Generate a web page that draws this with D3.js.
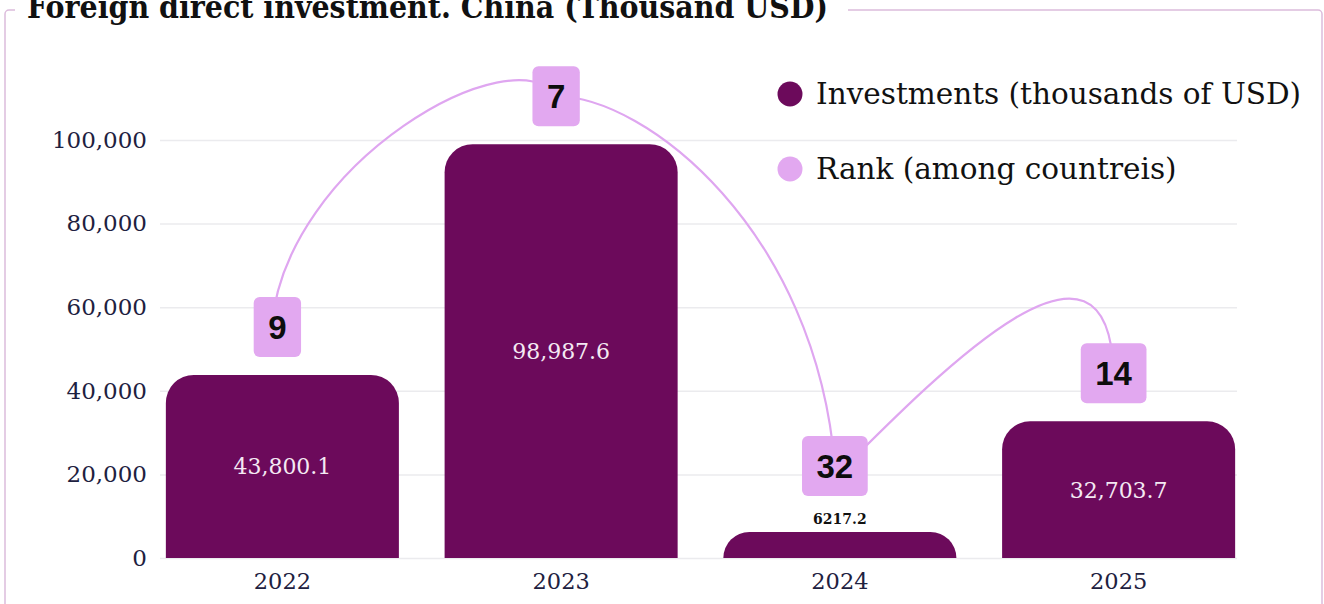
<!DOCTYPE html>
<html>
<head>
<meta charset="utf-8">
<script src="https://cdn.jsdelivr.net/npm/d3@7"></script>
<style>
  html, body { margin: 0; padding: 0; background: #ffffff; }
  svg { display: block; }
</style>
</head>
<body>
<svg id="chart" width="1324" height="604"></svg>
<script>
// ---- data ----
const years = ["2022", "2023", "2024", "2025"];
const investments = [43800.1, 98987.6, 6217.2, 32703.7];
const ranks = [9, 7, 32, 14];
const yTicks = [0, 20000, 40000, 60000, 80000, 100000];
const legendLabels = ["Investments (thousands of USD)", "Rank (among countreis)"];
const chartTitle = "Foreign direct investment. China (Thousand USD)";

// ---- styling ----
const W = 1324, H = 604;
const barColor = "#6c0a5b";
const rankColor = "#e2a8f0";
const rankLine = "#dfa6f0";
const axisText = "#1e2140";
const gridColor = "#ebebee";
const frameColor = "#dcbcdc";
const serif = "'DejaVu Serif', serif";

// bend of each connector between consecutive rank badges:
// start/end offsets from the badge centres, handles relative to start/end
const linkShape = [
  { from: [-6, 2],  c1: [13, -169],  c2: [-40, -62], to: [0, 0] },
  { from: [0, 0],   c1: [90, 0],     c2: [-19, -235], to: [0, 0] },
  { from: [-14, 25], c1: [110, -110], c2: [-5, -180], to: [0, 0] }
];

const svg = d3.select("#chart");

// ---- scales ----
const x = d3.scaleBand()
  .domain(years)
  .range([143, 1258])
  .paddingInner(0.164)
  .paddingOuter(0.082);

const y = d3.scaleLinear()
  .domain([0, 100000])
  .range([558, 140]);

// ---- frame with title gap ----
svg.append("path")
  .attr("d", `M15,10 H9 A4,4 0 0 0 5,14 V${H + 5} M848,10 H1318 A4,4 0 0 1 1322,14 V${H + 5}`)
  .attr("fill", "none")
  .attr("stroke", frameColor)
  .attr("stroke-width", 1.5);

svg.append("text")
  .attr("x", 27)
  .attr("y", 18)
  .attr("font-family", "'DejaVu Serif Condensed', 'DejaVu Serif', serif")
  .attr("font-weight", "bold")
  .attr("font-size", 31)
  .attr("textLength", 801)
  .attr("lengthAdjust", "spacingAndGlyphs")
  .attr("fill", "#111")
  .text(chartTitle);

// ---- y axis with grid ----
const gridLeft = 160, gridRight = 1237;
const yAxis = svg.append("g")
  .attr("transform", `translate(${gridLeft},0)`)
  .call(d3.axisLeft(y)
    .tickValues(yTicks)
    .tickSize(-(gridRight - gridLeft))
    .tickPadding(13)
    .tickFormat(d3.format(",")));
yAxis.select(".domain").remove();
yAxis.selectAll(".tick line")
  .attr("stroke", gridColor)
  .attr("stroke-width", 1.5);
yAxis.selectAll(".tick text")
  .attr("font-family", serif)
  .attr("font-size", 23)
  .attr("fill", axisText);

// ---- x axis ----
const xAxis = svg.append("g")
  .attr("transform", `translate(0,${y(0)})`)
  .call(d3.axisBottom(x).tickSize(0).tickPadding(15));
xAxis.select(".domain").remove();
xAxis.selectAll(".tick text")
  .attr("font-family", serif)
  .attr("font-size", 22.5)
  .attr("fill", axisText);

// ---- bars ----
function topRounded(x0, y0, w, h, r) {
  r = Math.min(r, h, w / 2);
  return `M${x0},${y0 + h}V${y0 + r}A${r},${r} 0 0 1 ${x0 + r},${y0}` +
         `H${x0 + w - r}A${r},${r} 0 0 1 ${x0 + w},${y0 + r}V${y0 + h}Z`;
}

const rows = years.map((yr, i) => ({ year: yr, value: investments[i], rank: ranks[i] }));
const insideMin = 60; // bars shorter than this carry their label above

svg.append("g")
  .selectAll("path")
  .data(rows)
  .join("path")
  .attr("d", d => topRounded(x(d.year), y(d.value), x.bandwidth(), y(0) - y(d.value), 28))
  .attr("fill", barColor);

// value labels
const fmtInside = d3.format(",.1f");
const fmtOutside = d3.format(".1f");
svg.append("g")
  .selectAll("text")
  .data(rows)
  .join("text")
  .attr("x", d => x(d.year) + x.bandwidth() / 2)
  .attr("y", d => {
    const h = y(0) - y(d.value);
    return h >= insideMin ? y(d.value) + h / 2 + 8 : y(d.value) - 8;
  })
  .attr("text-anchor", "middle")
  .attr("font-family", serif)
  .attr("font-size", d => (y(0) - y(d.value)) >= insideMin ? 22 : 14)
  .attr("font-weight", d => (y(0) - y(d.value)) >= insideMin ? "normal" : "bold")
  .attr("fill", d => (y(0) - y(d.value)) >= insideMin ? "#f4e9f3" : "#111")
  .text(d => (y(0) - y(d.value)) >= insideMin ? fmtInside(d.value) : fmtOutside(d.value));

// ---- rank badges ----
const badgeH = 60, badgeGap = 18, outsideLabelRoom = 18;
const badges = rows.map(d => {
  const h = y(0) - y(d.value);
  const lift = badgeGap + (h >= insideMin ? 0 : outsideLabelRoom);
  return {
    ...d,
    cx: x(d.year) + x.bandwidth() / 2 - 5,
    cy: y(d.value) - lift - badgeH / 2
  };
});

// connector behind the badges
const linkPath = d3.path();
for (let i = 0; i < badges.length - 1; i++) {
  const a = badges[i], b = badges[i + 1], s = linkShape[i];
  const sx = a.cx + s.from[0], sy = a.cy + s.from[1];
  const ex = b.cx + s.to[0], ey = b.cy + s.to[1];
  linkPath.moveTo(sx, sy);
  linkPath.bezierCurveTo(sx + s.c1[0], sy + s.c1[1], ex + s.c2[0], ey + s.c2[1], ex, ey);
}
svg.append("path")
  .attr("d", linkPath.toString())
  .attr("fill", "none")
  .attr("stroke", rankLine)
  .attr("stroke-width", 2.2);

const badgeG = svg.append("g")
  .selectAll("g")
  .data(badges)
  .join("g")
  .attr("transform", d => `translate(${d.cx},${d.cy})`);

badgeG.append("text")
  .attr("class", "rank-label")
  .attr("text-anchor", "middle")
  .attr("y", 12)
  .attr("font-family", "'Liberation Sans', Arial, sans-serif")
  .attr("font-weight", "bold")
  .attr("font-size", 33)
  .attr("fill", "#0d0d0d")
  .text(d => d.rank);

badgeG.each(function () {
  const g = d3.select(this);
  const w = g.select("text").node().getComputedTextLength() + 29;
  g.insert("rect", "text")
    .attr("x", -w / 2)
    .attr("y", -badgeH / 2)
    .attr("width", w)
    .attr("height", badgeH)
    .attr("rx", 6)
    .attr("fill", rankColor);
});

// ---- legend ----
const legend = svg.append("g");
const legendColors = [barColor, rankColor];
legendLabels.forEach((label, i) => {
  const cy = 94 + i * 75;
  legend.append("circle")
    .attr("cx", 790).attr("cy", cy).attr("r", 12.5)
    .attr("fill", legendColors[i]);
  legend.append("text")
    .attr("x", 816).attr("y", cy + 10)
    .attr("font-family", serif)
    .attr("font-size", 29.5)
    .attr("fill", "#111")
    .text(label);
});
</script>
</body>
</html>
